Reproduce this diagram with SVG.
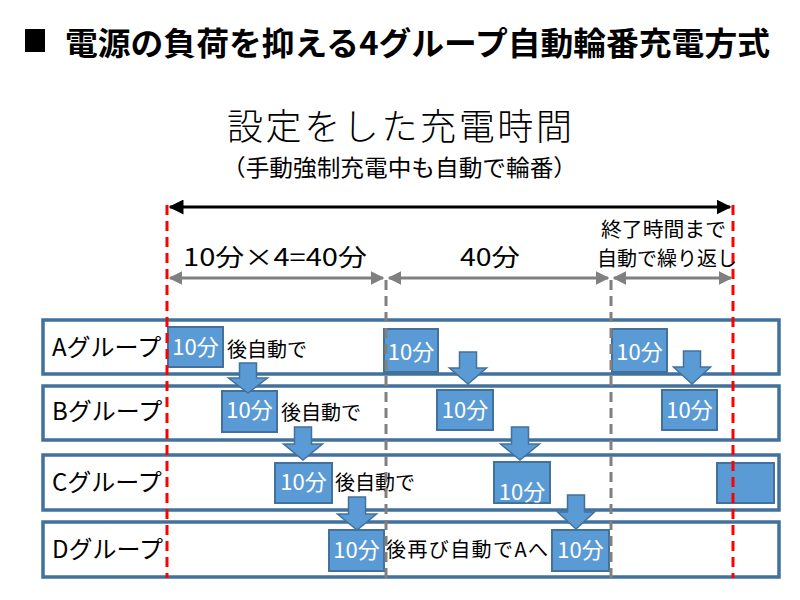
<svg xmlns="http://www.w3.org/2000/svg" width="800" height="600" viewBox="0 0 800 600">
<defs>
<style>
text{font-family:"Noto Sans CJK JP","Noto Sans",sans-serif;fill:#000}
.title{font-size:32px;font-weight:bold}
.row{fill:#fff;stroke:#41719C;stroke-width:3.5}
.box{fill:#5B9BD5;stroke:#41719C;stroke-width:2}
.bt{font-size:22px;fill:#fff;text-anchor:middle}
.lbl{font-size:24px}
.note{font-size:20px}
.dar{fill:#5B9BD5;stroke:#41719C;stroke-width:1.5}
.red{stroke:#FF0000;stroke-width:3;stroke-dasharray:10 6;fill:none}
.gray{stroke:#808080;stroke-width:3;stroke-dasharray:10 6;fill:none}
.gl{stroke:#808080;stroke-width:3;fill:none}
.bl{stroke:#000;stroke-width:3;fill:none}
</style>
<marker id="ga" viewBox="0 0 10 10" refX="9" refY="5" markerWidth="4.5" markerHeight="4.5" orient="auto-start-reverse" markerUnits="strokeWidth"><path d="M0,0 L10,5 L0,10 z" fill="#808080"/></marker>
<marker id="ba" viewBox="0 0 10 10" refX="9" refY="5" markerWidth="5" markerHeight="5" orient="auto-start-reverse" markerUnits="strokeWidth"><path d="M0,0 L10,5 L0,10 z" fill="#000"/></marker>
</defs>
<rect width="800" height="600" fill="#fff"/>

<g id="title">
<rect x="25" y="29" width="20" height="23" fill="#000"/>
<text class="title" x="65" y="55" textLength="705" lengthAdjust="spacingAndGlyphs">電源の負荷を抑える4グループ自動輪番充電方式</text>
</g>
<g id="heading">
<text x="227" y="140" font-size="36" font-weight="300" fill="#222" textLength="345" lengthAdjust="spacing">設定をした充電時間</text>
<text x="222" y="176" font-size="23" fill="#222" textLength="355" lengthAdjust="spacingAndGlyphs">（手動強制充電中も自動で輪番）</text>
</g>

<g id="rows">
<g id="rowA"><rect class="row" x="43" y="320" width="736" height="54"/><text class="lbl" x="52" y="356">Aグループ</text></g>
<g id="rowB"><rect class="row" x="43" y="386" width="736" height="54"/><text class="lbl" x="52" y="420">Bグループ</text></g>
<g id="rowC"><rect class="row" x="43" y="455" width="736" height="55"/><text class="lbl" x="52" y="491">Cグループ</text></g>
<g id="rowD"><rect class="row" x="43" y="522" width="736" height="55"/><text class="lbl" x="52" y="558">Dグループ</text></g>
</g>

<g id="blocks">
<g id="A1"><rect class="box" x="168" y="327" width="55" height="40"/><text class="bt" x="195.5" y="355">10分</text></g>
<g id="B1"><rect class="box" x="222" y="391" width="55" height="41"/><text class="bt" x="249.5" y="418">10分</text></g>
<g id="C1"><rect class="box" x="275" y="463" width="57" height="40"/><text class="bt" x="303.5" y="490">10分</text></g>
<g id="D1"><rect class="box" x="329" y="530" width="55" height="41"/><text class="bt" x="356.5" y="558">10分</text></g>
<g id="A2"><rect class="box" x="384" y="329" width="54" height="43"/><text class="bt" x="411" y="360">10分</text></g>
<g id="B2"><rect class="box" x="437" y="390" width="56" height="40"/><text class="bt" x="465" y="418">10分</text></g>
<g id="C2"><rect class="box" x="494" y="462" width="56" height="41"/><text class="bt" x="522" y="500">10分</text></g>
<g id="D2"><rect class="box" x="552" y="530" width="57" height="41"/><text class="bt" x="580.5" y="558">10分</text></g>
<g id="A3"><rect class="box" x="612" y="329" width="55" height="43"/><text class="bt" x="639.5" y="360">10分</text></g>
<g id="B3"><rect class="box" x="662" y="390" width="55" height="40"/><text class="bt" x="689.5" y="418">10分</text></g>
<g id="C3"><rect class="box" x="717" y="463" width="57" height="40"/></g>
</g>

<g id="notes">
<text class="note" x="227" y="357">後自動で</text>
<text class="note" x="281" y="420">後自動で</text>
<text class="note" x="335" y="490">後自動で</text>
<text class="note" x="386" y="557" textLength="162" lengthAdjust="spacing">後再び自動でAへ</text>
</g>

<g id="connectors">
<path class="dar" d="M239.5,363 h17 v15 h11 l-19.5,15 l-19.5,-15 h11 z"/>
<path class="dar" d="M294.5,427 h17 v17 h11 l-19.5,16 l-19.5,-16 h11 z"/>
<path class="dar" d="M348.5,497 h17 v17 h11 l-19.5,16 l-19.5,-16 h11 z"/>
<path class="dar" d="M459.5,352 h17 v16 h10 l-18.5,16 l-18.5,-16 h10 z"/>
<path class="dar" d="M511.5,427 h17 v17 h11 l-19.5,16 l-19.5,-16 h11 z"/>
<path class="dar" d="M567.5,495 h17 v17 h10 l-18.5,17 l-18.5,-17 h10 z"/>
<path class="dar" d="M683.5,351 h17 v16 h10 l-18.5,17 l-18.5,-17 h10 z"/>

<line class="red" x1="167" y1="205" x2="167" y2="578"/>
<line class="red" x1="733" y1="205" x2="733" y2="578"/>
<line class="gray" x1="386" y1="280" x2="386" y2="578"/>
<line class="gray" x1="611" y1="280" x2="611" y2="578"/>

<line class="bl" x1="170" y1="207" x2="730" y2="207" marker-start="url(#ba)" marker-end="url(#ba)"/>
<line class="gl" x1="170" y1="278" x2="383" y2="278" marker-start="url(#ga)" marker-end="url(#ga)"/>
<line class="gl" x1="389" y1="278" x2="608" y2="278" marker-start="url(#ga)" marker-end="url(#ga)"/>
<line class="gl" x1="614" y1="278" x2="731" y2="278" marker-start="url(#ga)" marker-end="url(#ga)"/>
</g>

<g id="spans">
<text x="183" y="266" font-size="24" textLength="184" lengthAdjust="spacingAndGlyphs">10分×4=40分</text>
<text x="460" y="266" font-size="24" textLength="60" lengthAdjust="spacingAndGlyphs">40分</text>
<text x="601" y="237" font-size="20" textLength="125" lengthAdjust="spacingAndGlyphs">終了時間まで</text>
<text x="597" y="266" font-size="20" textLength="140" lengthAdjust="spacingAndGlyphs">自動で繰り返し</text>
</g>
</svg>
